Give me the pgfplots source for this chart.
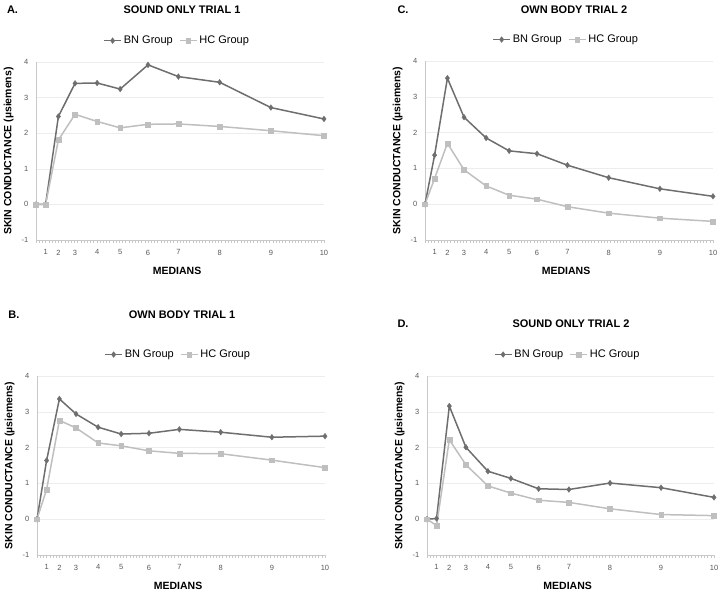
\documentclass[border=0pt]{standalone}
\usepackage{pgfplots}
\pgfplotsset{compat=1.18}
\usepackage{pgfplotstable}
\usepackage{fontspec}
\setmainfont{Liberation Sans}
\definecolor{bncol}{HTML}{6E6E6E}
\definecolor{hccol}{HTML}{BFBFBF}
\definecolor{axgray}{HTML}{C8C8C8}
\definecolor{gridgray}{HTML}{EDEDED}
\definecolor{tickgray}{HTML}{595959}

\pgfplotstableread{
x BN HC
0 0 0
3 0 0
7 2.47 1.81
12.2 3.40 2.53
19.1 3.41 2.33
26.3 3.24 2.15
35 3.92 2.25
44.5 3.59 2.26
57.4 3.43 2.19
73.4 2.72 2.07
90 2.40 1.93
}\dataA
\pgfplotstableread{
x BN HC
0 0 0
3 1.37 0.72
7 3.52 1.70
12.2 2.43 0.96
19.1 1.85 0.51
26.3 1.49 0.25
35 1.41 0.14
44.5 1.09 -0.07
57.4 0.74 -0.25
73.4 0.43 -0.39
90 0.22 -0.48
}\dataC
\pgfplotstableread{
x BN HC
0 0 0
3 1.64 0.83
7 3.36 2.76
12.2 2.94 2.55
19.1 2.57 2.13
26.3 2.38 2.05
35 2.40 1.91
44.5 2.51 1.84
57.4 2.43 1.83
73.4 2.29 1.65
90 2.32 1.44
}\dataB
\pgfplotstableread{
x BN HC
0 0 0
3 0.02 -0.18
7 3.16 2.22
12.2 2.01 1.52
19.1 1.34 0.93
26.3 1.14 0.73
35 0.85 0.53
44.5 0.83 0.47
57.4 1.01 0.29
73.4 0.88 0.13
90 0.61 0.10
}\dataD

\pgfplotsset{myax/.style={
  scale only axis, width=288pt, height=178pt,
  anchor=south west,
  xmin=0, xmax=90, ymin=-1, ymax=4,
  xtick={3,7,12.2,19.1,26.3,35,44.5,57.4,73.4,90},
  xticklabels={1,2,3,4,5,6,7,8,9,10},
  minor xtick={0,1,...,90},
  ytick={-1,0,1,2,3,4}, yticklabels={-1,0,1,2,3,4},
  axis lines*=left,
  axis line style={draw=axgray, line width=0.7pt},
  ymajorgrids, grid style={draw=gridgray, line width=0.5pt},
  major x tick style={draw=none}, ytick style={draw=none},
  minor x tick style={draw=axgray, line width=0.5pt},
  minor tick length=2.5pt, tick align=outside,
  tick label style={font=\fontsize{7.5}{9}\selectfont, text=tickgray},
  xticklabel style={yshift=-2pt},
  ylabel={SKIN CONDUCTANCE (µsiemens)}, xlabel={MEDIANS},
  ylabel style={font=\bfseries\fontsize{10.5}{12}\selectfont, at={(axis description cs:-0.095,0.5)}, anchor=center},
  xlabel style={font=\bfseries\fontsize{10.5}{12}\selectfont, at={(axis description cs:0.49,-0.175)}, anchor=center},
  legend columns=2,
  legend style={draw=none, fill=none, at={(0.49,1.12)}, anchor=center,
    font=\fontsize{11}{13}\selectfont,
    /tikz/every even column/.append style={column sep=4pt}},
  clip=false,
}}
\newcommand{\series}[1]{%
  \addplot[color=bncol, line width=1.5pt, mark=diamond*, mark size=2.9pt, mark options={solid, line width=0.3pt}] table[x=x,y=BN] {#1};
  \addplot[color=hccol, line width=1.5pt, mark=square*, mark size=2.4pt, mark options={solid, line width=0.3pt}] table[x=x,y=HC] {#1};
  \legend{BN Group, HC Group}
}

\begin{document}
\begin{tikzpicture}
\useasboundingbox (0pt,0pt) rectangle (722pt,-594pt);
\tikzset{ttl/.style={font=\bfseries\fontsize{11}{13}\selectfont}}
\node[ttl] at (12.5pt,-10pt) {A.};
\node[ttl] at (182pt,-10pt) {SOUND ONLY TRIAL 1};
\node[ttl] at (403pt,-10pt) {C.};
\node[ttl] at (574pt,-10pt) {OWN BODY TRIAL 2};
\node[ttl] at (14pt,-315pt) {B.};
\node[ttl] at (182pt,-315pt) {OWN BODY TRIAL 1};
\node[ttl] at (403pt,-324pt) {D.};
\node[ttl] at (571pt,-324pt) {SOUND ONLY TRIAL 2};

\begin{axis}[myax, at={(36pt,-240pt)}]
\series{\dataA}
\end{axis}
\begin{axis}[myax, at={(425pt,-240pt)}, height=179pt]
\series{\dataC}
\end{axis}
\begin{axis}[myax, at={(37pt,-555pt)}, height=179pt]
\series{\dataB}
\end{axis}
\begin{axis}[myax, at={(427pt,-555pt)}, width=287pt, height=179pt]
\series{\dataD}
\end{axis}
\end{tikzpicture}
\end{document}
